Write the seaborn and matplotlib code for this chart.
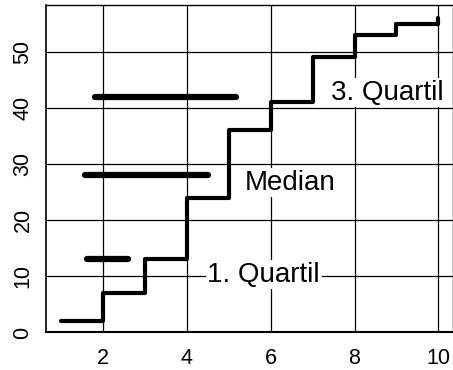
import seaborn as sns
import matplotlib.pyplot as plt
import pandas as pd

# cumulative frequencies (step plot)
x_vals = [1, 2, 3, 4, 5, 6, 7, 8, 9, 10]
cum_vals = [2, 7, 13, 24, 36, 41, 49, 53, 55, 56]

# quartile markers and labels
q_names = ["1. Quartil", "Median", "3. Quartil"]
q_vals = [13, 28, 42]
bar_start = [1.62, 1.56, 1.80]
bar_end = [2.59, 4.50, 5.18]
label_x = [5.83, 6.47, 8.78]
label_y = [10.3, 26.7, 42.7]

df = pd.DataFrame({"x": x_vals, "y": cum_vals})

sns.set_style('white')
plt.rcParams['font.family'] = ['Liberation Sans', 'DejaVu Sans']
plt.rcParams['text.color'] = 'black'
plt.rcParams['xtick.color'] = 'black'
plt.rcParams['ytick.color'] = 'black'

fig = plt.figure(figsize=(4.53, 3.70), dpi=100)
ax = fig.add_axes([0.1015, 0.1014, 0.8995, 0.885])

# grid
for gx in [2, 4, 6, 8, 10]:
    ax.axvline(gx, color='black', lw=0.9, zorder=1)
for gy in [10, 20, 30, 40, 50]:
    ax.axhline(gy, color='black', lw=0.9, zorder=1)

sns.lineplot(x="x", y="y", data=df, drawstyle='steps-post', color='black',
             lw=3.0, ax=ax, zorder=3)

for i in range(len(q_vals)):
    ax.plot([bar_start[i], bar_end[i]], [q_vals[i], q_vals[i]], color='black',
            lw=4.5, solid_capstyle='round', zorder=3)
    ax.text(label_x[i], label_y[i], q_names[i], fontsize=20, ha='center',
            va='center', color='black', zorder=4,
            bbox=dict(boxstyle='square,pad=0.06', fc='white', ec='none'))

ax.set_xlim(0.64, 10.36)
ax.set_ylim(0, 58.3)
ax.set_xticks([2, 4, 6, 8, 10])
ax.set_yticks([0, 10, 20, 30, 40, 50])
ax.tick_params(axis='both', length=0, labelsize=15.5, labelcolor='black')
ax.tick_params(axis='x', pad=11)
ax.tick_params(axis='y', pad=9)
for lab in ax.get_yticklabels():
    lab.set_rotation(90)
    lab.set_va('center')
ax.set_xlabel('')
ax.set_ylabel('')
for s in ax.spines.values():
    s.set_color('black')
    s.set_linewidth(1.0)
ax.spines['bottom'].set_linewidth(1.5)
ax.spines['left'].set_linewidth(1.2)

fig.savefig('out.png', dpi=100)
